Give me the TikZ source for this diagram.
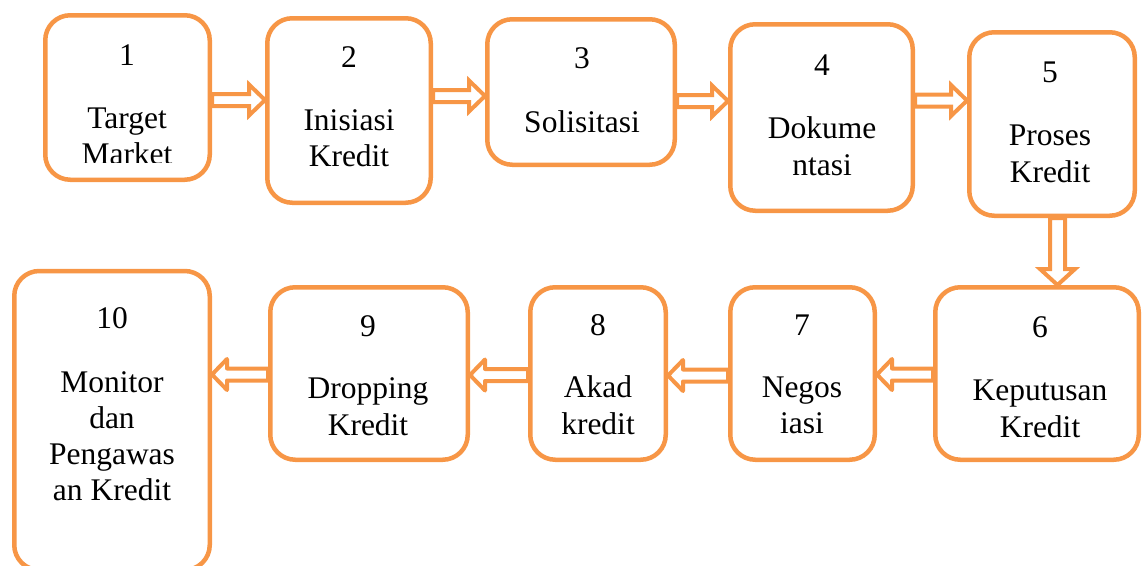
\documentclass[tikz,border=0pt]{standalone}
\usepackage{fontspec}
\setmainfont{Liberation Serif}
\usetikzlibrary{calc}
\definecolor{accentorange}{RGB}{247,150,70}
\tikzset{
  stage/.style={draw=accentorange, line width=4.5pt, rounded corners=25pt, fill=white, inner sep=0pt},
  lbl/.style={anchor=base, inner sep=0pt, font=\fontsize{31.5}{36}\selectfont},
  fatarrow/.style={draw=accentorange, line width=4pt, fill=white},
}
% hollow block arrows between two stages at a given height / x-position
\newcommand\arrowright[3]{%
  \draw[fatarrow, line join=miter] let \p1=(#1.east |- 0,#3), \p2=(#2.west |- 0,#3) in
    (\x1,\y1+6pt) -- (\x2-16pt,\y1+6pt) -- (\x2-16pt,\y1+15.5pt) -- (\x2,\y1)
    -- (\x2-16pt,\y1-15.5pt) -- (\x2-16pt,\y1-6pt) -- (\x1,\y1-6pt) -- cycle;}
\newcommand\arrowleft[3]{%
  \draw[fatarrow, line join=round] let \p1=(#1.west |- 0,#3), \p2=(#2.east |- 0,#3) in
    (\x1,\y1+6pt) -- (\x2+15pt,\y1+6pt) -- (\x2+15pt,\y1+15.5pt) -- (\x2,\y1)
    -- (\x2+15pt,\y1-15.5pt) -- (\x2+15pt,\y1-6pt) -- (\x1,\y1-6pt) -- cycle;}
\newcommand\arrowdown[3]{%
  \draw[fatarrow, line join=miter] let \p1=(#1.south -| #3,0), \p2=(#2.north -| #3,0) in
    (\x1-7.5pt,\y1) -- (\x1-7.5pt,\y2+16pt) -- (\x1-17.5pt,\y2+16pt) -- (\x1,\y2)
    -- (\x1+17.5pt,\y2+16pt) -- (\x1+7.5pt,\y2+16pt) -- (\x1+7.5pt,\y1) -- cycle;}
\begin{document}
\begin{tikzpicture}[x=1pt,y=-1pt]
\useasboundingbox (0,0) rectangle (1142,565);
\clip (0,0) rectangle (1142,565);

% stages, top row
\node[stage, minimum width=164.5pt, minimum height=164.5pt] (b1) at (127.5,97.5) {};
\node[stage, minimum width=163.5pt, minimum height=184.5pt] (b2) at (349,110.5) {};
\node[stage, minimum width=187.5pt, minimum height=145.5pt] (b3) at (581,92) {};
\node[stage, minimum width=182.5pt, minimum height=186.5pt] (b4) at (821.5,117.5) {};
\node[stage, minimum width=165.5pt, minimum height=183.5pt] (b5) at (1052,124) {};
% stages, bottom row
\node[stage, minimum width=203.5pt, minimum height=172.5pt] (b6) at (1037,373.5) {};
\node[stage, minimum width=144.5pt, minimum height=172.5pt] (b7) at (802.5,373.5) {};
\node[stage, minimum width=135.5pt, minimum height=172.5pt] (b8) at (598,373.5) {};
\node[stage, minimum width=197.5pt, minimum height=172.5pt] (b9) at (369,373.5) {};
\node[stage, minimum width=195.5pt, minimum height=299pt] (b10) at (112,420.5) {};

% connectors
\arrowright{b1}{b2}{100}
\arrowright{b2}{b3}{96}
\arrowright{b3}{b4}{101}
\arrowright{b4}{b5}{100.5}
\arrowdown{b5}{b6}{1057.5}
\arrowleft{b6}{b7}{374.5}
\arrowleft{b7}{b8}{375.5}
\arrowleft{b8}{b9}{375}
\arrowleft{b9}{b10}{374.5}

% labels
\node[lbl] (n1) at (127,65) {1};
\node[lbl] (t1a) at (127,128) {Target};
\begin{scope}
  \clip (50,135) rectangle (205,162);
  \node[lbl] (t1b) at (127,164) {Market};
\end{scope}

\node[lbl] (n2) at (349,67) {2};
\node[lbl] (t2a) at (349,130) {Inisiasi};
\node[lbl] (t2b) at (349,166) {Kredit};

\node[lbl] (n3) at (582,68) {3};
\node[lbl] (t3a) at (582,132) {Solisitasi};

\node[lbl] (n4) at (822,75) {4};
\node[lbl] (t4a) at (822,138) {Dokume};
\node[lbl] (t4b) at (822,175) {ntasi};

\node[lbl] (n5) at (1050,82) {5};
\node[lbl] (t5a) at (1050,145) {Proses};
\node[lbl] (t5b) at (1050,182) {Kredit};

\node[lbl] (n6) at (1040,337) {6};
\node[lbl] (t6a) at (1040,400) {Keputusan};
\node[lbl] (t6b) at (1040,437) {Kredit};

\node[lbl] (n7) at (802,335) {7};
\node[lbl] (t7a) at (802,397) {Negos};
\node[lbl] (t7b) at (802,433) {iasi};

\node[lbl] (n8) at (598,335) {8};
\node[lbl] (t8a) at (598,397) {Akad};
\node[lbl] (t8b) at (598,434) {kredit};

\node[lbl] (n9) at (368,336) {9};
\node[lbl] (t9a) at (368,398) {Dropping};
\node[lbl] (t9b) at (368,435) {Kredit};

\node[lbl] (n10) at (112,328) {10};
\node[lbl] (t10a) at (112,392) {Monitor};
\node[lbl] (t10b) at (112,428) {dan};
\node[lbl] (t10c) at (112,464) {Pengawas};
\node[lbl] (t10d) at (112,500) {an Kredit};
\end{tikzpicture}
\end{document}
